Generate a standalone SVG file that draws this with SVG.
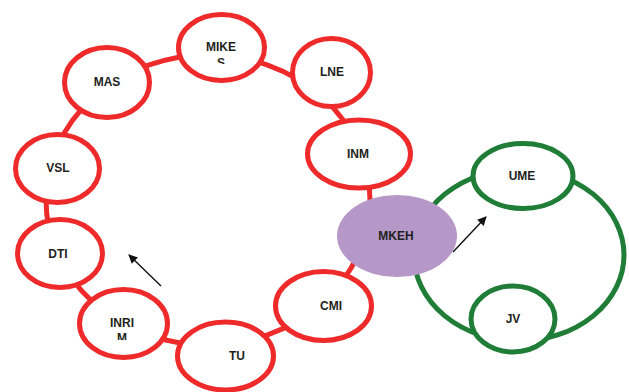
<svg xmlns="http://www.w3.org/2000/svg" width="629" height="392" viewBox="0 0 629 392">
<style>
.r{fill:#fff;stroke:#ee2a2b;stroke-width:5}
.g{fill:#fff;stroke:#1f7d37;stroke-width:5}
.t{font-family:"Liberation Sans",Arial,sans-serif;font-weight:bold;font-size:12px;fill:#231f20;text-anchor:middle}
.a{stroke:#111;stroke-width:1.4;fill:none}
</style>
<defs>
<marker id="ah" viewBox="0 0 10 10" refX="9" refY="5" markerWidth="10" markerHeight="9" markerUnits="userSpaceOnUse" orient="auto">
<path d="M0,0 L10,5 L0,10 z" fill="#111"/>
</marker>
<clipPath id="c1"><rect x="170" y="0" width="100" height="64"/></clipPath>
<clipPath id="c3"><rect x="70" y="280" width="110" height="60"/></clipPath>
</defs>
<rect width="629" height="392" fill="#fff"/>
<g id="connectors">
<ellipse cx="208" cy="200" rx="162" ry="145" fill="none" stroke="#ee2a2b" stroke-width="5"/>
<ellipse cx="519" cy="255" rx="105" ry="86" fill="none" stroke="#1f7d37" stroke-width="5"/>
<line class="a" x1="161" y1="286" x2="129" y2="255" marker-end="url(#ah)"/>
<line class="a" x1="453" y1="252" x2="486" y2="217" marker-end="url(#ah)"/>
</g>
<g id="MIKES"><ellipse class="r" cx="221.5" cy="47.5" rx="43" ry="33"/><text class="t" clip-path="url(#c1)"><tspan x="221" y="50.5">MIKE</tspan><tspan x="221" y="66.5">S</tspan></text></g>
<g id="LNE"><ellipse class="r" cx="331.5" cy="72.5" rx="39" ry="34"/><text class="t" x="332" y="75.5">LNE</text></g>
<g id="INM"><ellipse class="r" cx="359" cy="154" rx="51.5" ry="34"/><text class="t" x="358" y="157.5">INM</text></g>
<g id="MKEH"><ellipse cx="397" cy="236" rx="60" ry="41" fill="#b597c8"/><text class="t" x="396" y="239.5">MKEH</text></g>
<g id="CMI"><ellipse class="r" cx="323.5" cy="306" rx="48" ry="34.5"/><text class="t" x="331" y="309.5">CMI</text></g>
<g id="TU"><ellipse class="r" cx="225.5" cy="356" rx="48" ry="34"/><text class="t" x="237" y="360">TU</text></g>
<g id="INRIM"><ellipse class="r" cx="123.5" cy="323.5" rx="44" ry="34"/><text class="t" clip-path="url(#c3)"><tspan x="122" y="326.5">INRI</tspan><tspan x="122" y="342">M</tspan></text></g>
<g id="DTI"><ellipse class="r" cx="60" cy="253.5" rx="42.5" ry="34"/><text class="t" x="58" y="257.5">DTI</text></g>
<g id="VSL"><ellipse class="r" cx="57.5" cy="168.5" rx="42" ry="34"/><text class="t" x="58" y="171.5">VSL</text></g>
<g id="MAS"><ellipse class="r" cx="107" cy="82.5" rx="42.5" ry="35"/><text class="t" x="107" y="85.5">MAS</text></g>
<g id="UME"><ellipse class="g" cx="523" cy="176" rx="50" ry="32.5"/><text class="t" x="522" y="180">UME</text></g>
<g id="JV"><ellipse class="g" cx="513" cy="319" rx="42" ry="33"/><text class="t" x="513" y="323">JV</text></g>
</svg>
